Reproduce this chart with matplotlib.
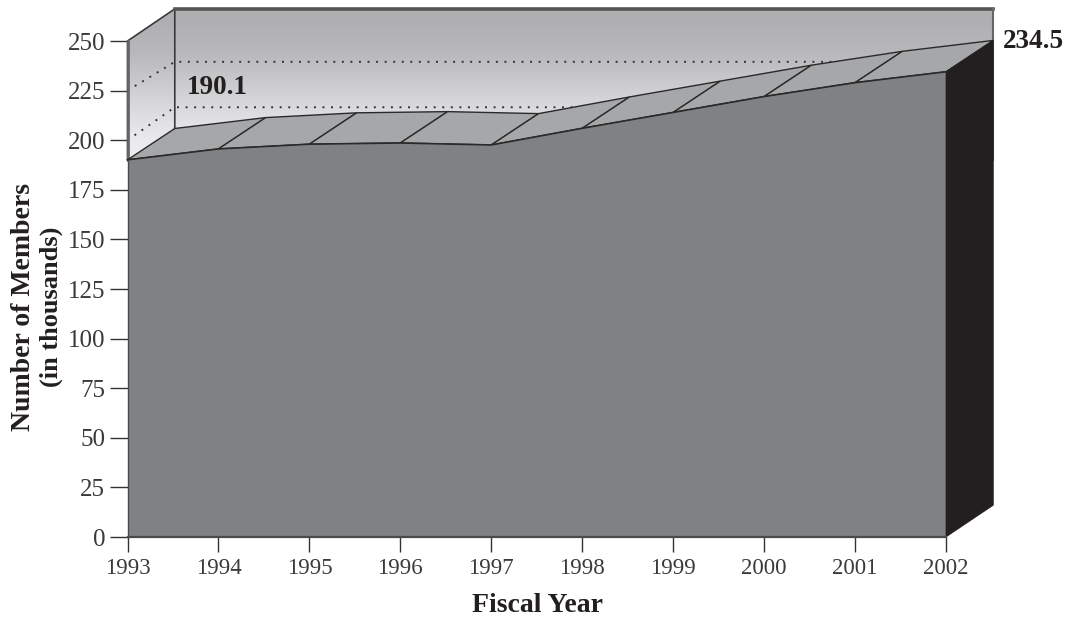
import numpy as np
import matplotlib
matplotlib.use('Agg')
import matplotlib.pyplot as plt
from matplotlib.patches import Polygon

years = [1993, 1994, 1995, 1996, 1997, 1998, 1999, 2000, 2001, 2002]
members = [190.1, 195.6, 198.0, 198.6, 197.6, 206.0, 214.0, 222.0, 229.0, 234.5]
y_ticks = [0, 25, 50, 75, 100, 125, 150, 175, 200, 225, 250]
grid_levels = [200, 225]
label_first = '190.1'
label_last = '234.5'

W, H = 1068, 618
plt.rcParams['font.family'] = ['Liberation Serif', 'DejaVu Serif']

fig = plt.figure(figsize=(W / 100, H / 100), dpi=100)
ax = fig.add_axes([127.5 / W, 1 - 537 / H, (946 - 127.5) / W, (537 - 41) / H])
ax.set_xlim(1993, 2002)
ax.set_ylim(0, 250)

# depth of the 3d box, in data units
dx = 0.52
dy = 15.8
x0, x1 = years[0], years[-1]
top = 250 + 16.2


def wall(points, shades):
    # vertical gradient clipped to a polygon
    poly = Polygon(points, closed=True, transform=ax.transData, fc='none', ec='none')
    ax.add_patch(poly)
    grad = np.array(shades).reshape(-1, 1, 1) * np.array([0.985, 0.985, 1.0])
    im = ax.imshow(grad, aspect='auto', interpolation='bilinear',
                   extent=[x0, x1 + dx, 180, top], origin='upper', zorder=1)
    im.set_clip_path(poly)
    im.set_clip_box(fig.bbox)


shades = [0.70, 0.73, 0.80, 0.87, 0.93, 0.96]
wall([(x0, 180), (x0, 250), (x0 + dx, top), (x1 + dx, top), (x1 + dx, 180), (x0 + dx, 180)], shades)
ax.set_xlim(1993, 2002)
ax.set_ylim(0, 250)

# dotted gridlines on the walls, the back part sits a little off the tick level
grid_back = [16.6, 14.5]
for lev, back in zip(grid_levels, grid_back):
    ax.plot([x0, x0 + dx, x1 + dx], [lev, lev + back, lev + back], color='#333333', lw=1.4,
            ls=(0, (1, 3.4)), clip_on=False, zorder=2)

# wall edges
edge = '#3a3a3c'
ax.plot([x0, x0, x0 + dx, x0 + dx], [members[0], 250, top, members[0] + dy], color=edge, lw=1.2, clip_on=False, zorder=3)
ax.plot([x0, x0], [members[0], 250], color='#666666', lw=2, clip_on=False, zorder=3)
ax.plot([x0 + dx, x1 + dx], [top, top], color='#555555', lw=2.6, clip_on=False, zorder=3)
ax.plot([x1 + dx, x1 + dx], [190, top], color='#666666', lw=1.5, clip_on=False, zorder=3)

# top surface, one slab per year
for i in range(len(years) - 1):
    xs = [years[i], years[i + 1], years[i + 1] + dx, years[i] + dx]
    ys = [members[i], members[i + 1], members[i + 1] + dy, members[i] + dy]
    ax.fill(xs, ys, fc='#a6a7a9', ec='#2a2a2a', lw=1.0, clip_on=False, zorder=4)

# front face and side
ax.fill_between(years, 0, members, color='#808183', lw=0, zorder=5)
ax.plot(years, members, color='#2a2a2a', lw=1.2, zorder=6, clip_on=False)
ax.fill([x1, x1 + dx, x1 + dx, x1], [0, 16, members[-1] + dy, members[-1]], fc='#231f20', ec='#231f20',
        lw=0.5, clip_on=False, zorder=5)
ax.plot([x0, x1], [0, 0], color='#4a4a4a', lw=1.6, clip_on=False, zorder=6)
ax.plot([x0, x0], [0, members[0]], color='#4a4a4a', lw=1.0, clip_on=False, zorder=6)

for s in ax.spines.values():
    s.set_visible(False)
ax.set_xticks(years)
ax.set_yticks(y_ticks)
ax.tick_params(axis='x', length=11, width=1, color='#333333', labelsize=16.5, labelcolor='#3a3a3c', pad=4)
ax.tick_params(axis='y', length=13, width=1, color='#333333', labelsize=18, labelcolor='#3a3a3c', pad=3)

fig.text(187 / W, 1 - 88 / H, label_first, fontsize=19.5, fontweight='bold', color='#231f20', va='center', ha='left')
fig.text(1003 / W, 1 - 41 / H, label_last, fontsize=19.5, fontweight='bold', color='#231f20', va='center', ha='left')
fig.text(537 / W, 1 - 606 / H, 'Fiscal Year', fontsize=20, fontweight='bold', color='#231f20', va='center', ha='center')
fig.text(24 / W, 1 - 307 / H, 'Number of Members', fontsize=20, fontweight='bold', color='#231f20',
         rotation=90, va='center', ha='center')
fig.text(51 / W, 1 - 307 / H, '(in thousands)', fontsize=19, fontweight='bold', color='#231f20',
         rotation=90, va='center', ha='center')

fig.savefig('out.png', dpi=100)
